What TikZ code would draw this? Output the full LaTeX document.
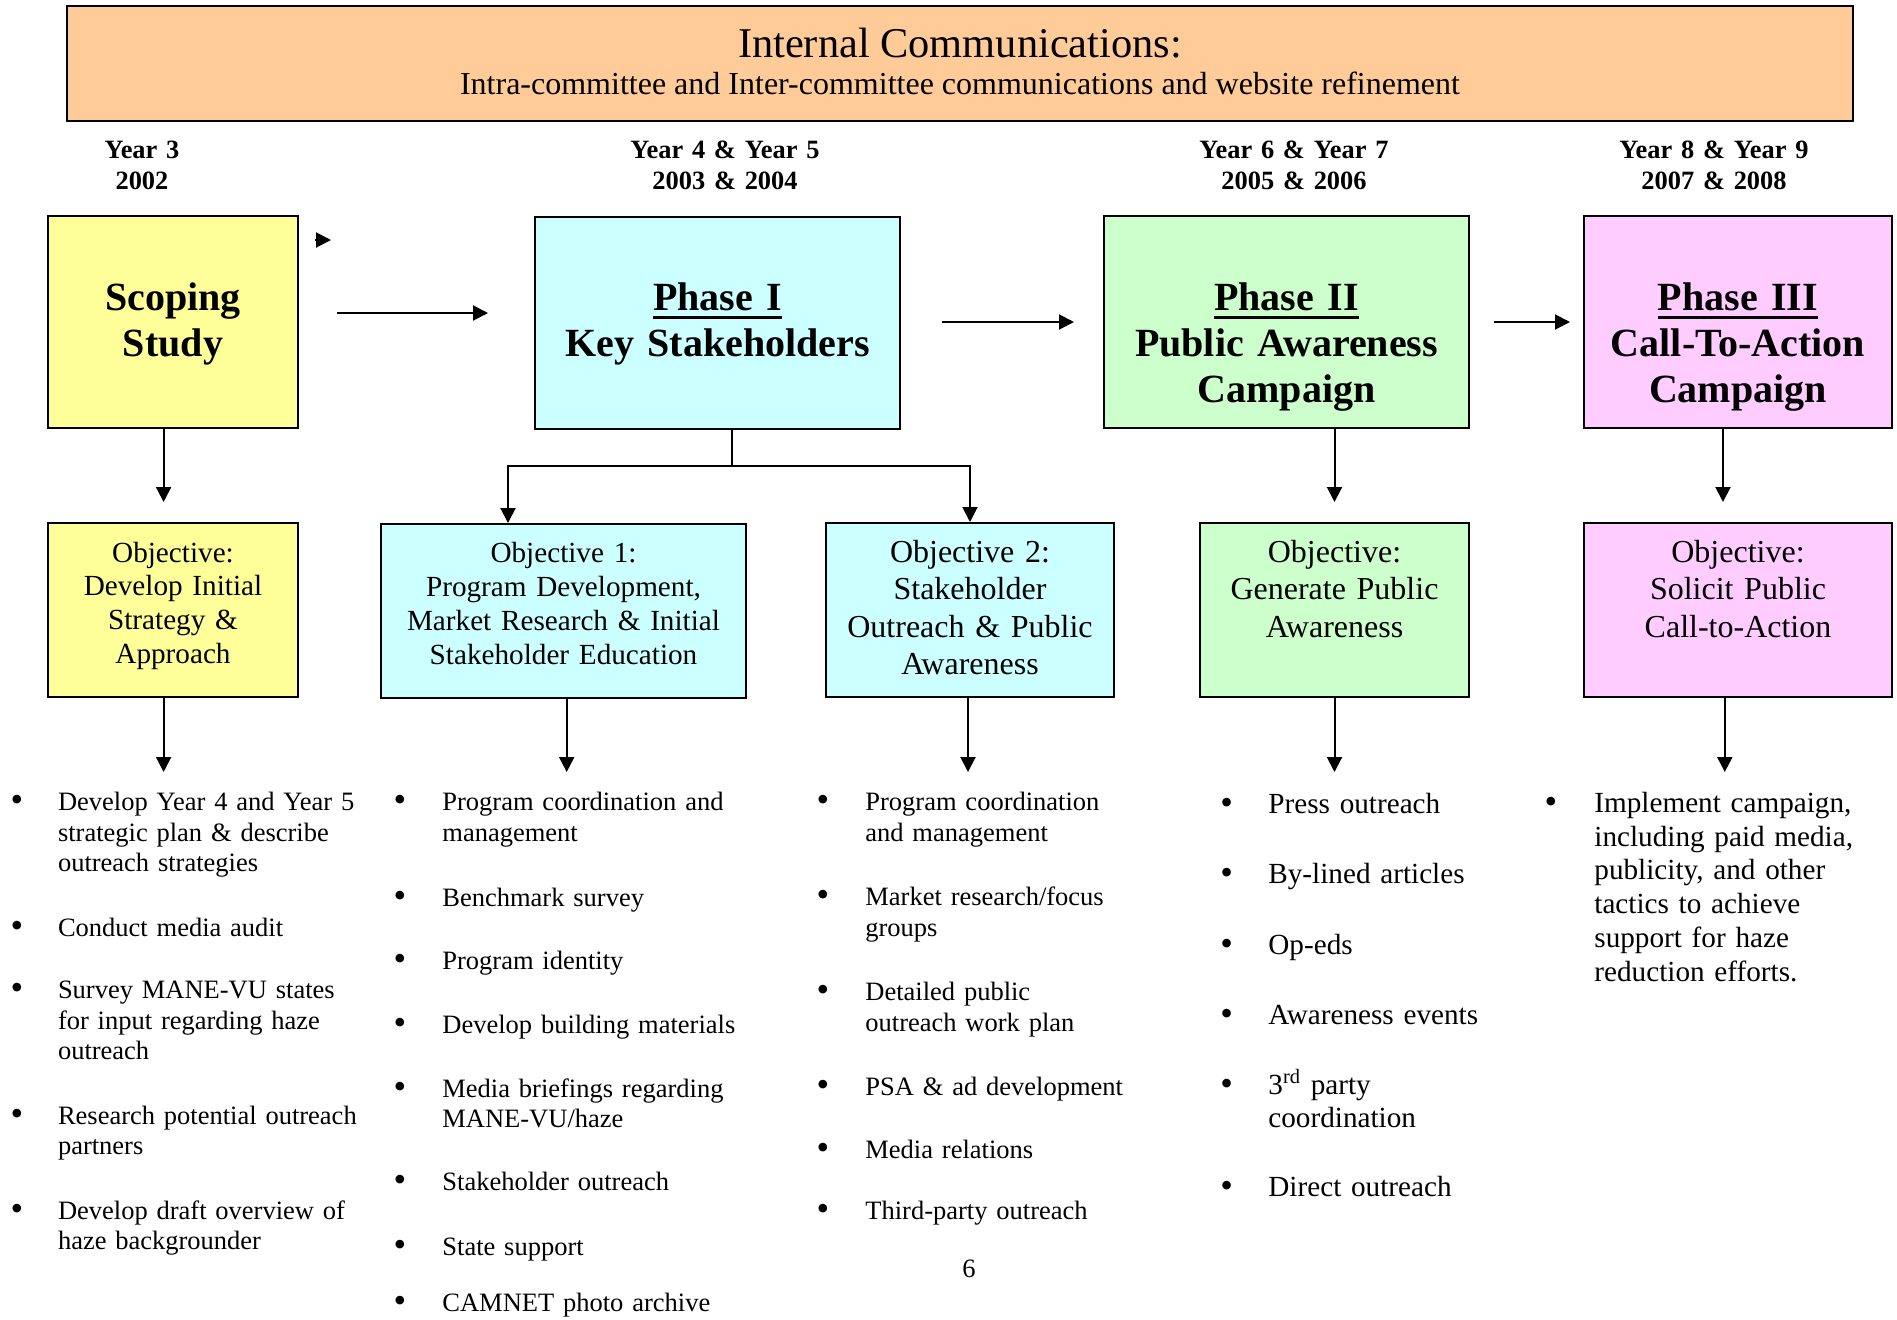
\documentclass[tikz,border=0pt]{standalone}
\usepackage{fontspec}
\setmainfont{Liberation Serif}
\usetikzlibrary{arrows.meta}

\definecolor{bannerfill}{HTML}{FFCC99}
\definecolor{scopefill}{HTML}{FFFF99}
\definecolor{onefill}{HTML}{CCFFFF}
\definecolor{twofill}{HTML}{CCFFCC}
\definecolor{threefill}{HTML}{FFCCFF}

% thick underline for the phase names
\newcommand{\phaseul}[1]{\setbox0\hbox{#1}\rlap{\rule[-4.5pt]{\wd0}{1.5pt}}\box0}

\begin{document}
\begin{tikzpicture}[x=0.5pt, y=-0.5pt, >={Triangle[length=7.5pt, width=7.5pt]},
  phasebox/.style={draw, line width=1pt, inner sep=0pt},
  phasetitle/.style={font=\fontsize{20}{23}\selectfont\bfseries, text width=170pt, align=center, anchor=base},
  goal/.style={font=\fontsize{14.6}{16.9}\selectfont, text width=180pt, align=center, anchor=base},
  goalbig/.style={font=\fontsize{16}{18.75}\selectfont, text width=180pt, align=center, anchor=base},
  year/.style={font=\fontsize{13.2}{15.5}\selectfont\bfseries, text width=120pt, align=center, anchor=base},
  entry/.style={font=\fontsize{13.25}{15.25}\selectfont, text width=200pt, align=left, anchor=base west, inner sep=0pt},
  entrybig/.style={font=\fontsize{14.6}{16.85}\selectfont, text width=200pt, align=left, anchor=base west, inner sep=0pt},
  bulletmark/.style={font=\fontsize{18}{18}\selectfont, anchor=base, inner sep=0pt, yshift=-0.5pt},
  link/.style={->, line width=1pt}]

\useasboundingbox (0,0) rectangle (1897,1319);

% --- Banner ---
\node[phasebox, fill=bannerfill, line width=1.2pt, minimum width=893pt, minimum height=57.5pt] (banner) at (960,63.5) {};
\node[font=\fontsize{21.2}{24}\selectfont, anchor=base] (bantitle) at (960,57.3) {Internal Communications:};
\node[font=\fontsize{16}{18}\selectfont, anchor=base] (bansub) at (960,94.3) {Intra-committee and Inter-committee communications and website refinement};

% --- Years ---
\node[year] (yr3) at (142,158) {Year 3\\2002};
\node[year] (yr45) at (725,158) {Year 4 \& Year 5\\2003 \& 2004};
\node[year] (yr67) at (1294,158) {Year 6 \& Year 7\\2005 \& 2006};
\node[year] (yr89) at (1714,158) {Year 8 \& Year 9\\2007 \& 2008};

% --- Phase boxes ---
\node[phasebox, fill=scopefill, minimum width=125pt, minimum height=106pt] (scope) at (173,322) {};
\node[phasebox, fill=onefill, minimum width=182.5pt, minimum height=106pt] (ph1) at (717.5,323) {};
\node[phasebox, fill=twofill, minimum width=182.5pt, minimum height=106pt] (ph2) at (1286.5,322) {};
\node[phasebox, fill=threefill, minimum width=154pt, minimum height=106pt] (ph3) at (1738,322) {};

\node[phasetitle] (scopetxt) at (173,310) {Scoping\\Study};
\node[phasetitle] (ph1txt) at (717.5,310) {\phaseul{Phase I}\\Key Stakeholders};
\node[phasetitle] (ph2txt) at (1286.5,310) {\phaseul{Phase II}\\Public Awareness\\Campaign};
\node[phasetitle] (ph3txt) at (1738,310) {\phaseul{Phase III}\\Call-To-Action\\Campaign};

% --- Objective boxes ---
\node[phasebox, fill=scopefill, minimum width=125pt, minimum height=87pt] (objS) at (173,610) {};
\node[phasebox, fill=onefill, minimum width=182.5pt, minimum height=87pt] (obj1) at (563.5,611) {};
\node[phasebox, fill=onefill, minimum width=144pt, minimum height=87pt] (obj2) at (970,610) {};
\node[phasebox, fill=twofill, minimum width=134.5pt, minimum height=87pt] (objII) at (1334.5,610) {};
\node[phasebox, fill=threefill, minimum width=154pt, minimum height=87pt] (objIII) at (1738,610) {};

\node[goal] (objStxt) at (173,562) {Objective:\\Develop Initial\\Strategy \&\\Approach};
\node[goal, font=\fontsize{14.6}{17.1}\selectfont] (obj1txt) at (563.5,562) {Objective 1:\\Program Development,\\Market Research \& Initial\\Stakeholder Education};
\node[goalbig] (obj2txt) at (970,562) {Objective 2:\\Stakeholder\\Outreach \& Public\\Awareness};
\node[goalbig] (objIItxt) at (1334.5,562) {Objective:\\Generate Public\\Awareness};
\node[goalbig] (objIIItxt) at (1738,562) {Objective:\\Solicit Public\\Call-to-Action};

% --- Arrows between phases ---
\coordinate (stray) at (315,240);
\coordinate (strayend) at (331,240);
\draw[link] (stray) -- (strayend);
\draw[link, shorten <=19pt, shorten >=23pt] ([yshift=4.5pt]scope.east) -- ([yshift=4.5pt]scope.east -| ph1.west);
\draw[link, shorten <=20.5pt, shorten >=14.5pt] (ph2.west -| ph1.east) -- (ph2.west);
\draw[link, shorten <=12pt, shorten >=6.5pt] (ph2.east) -- (ph3.west);

% --- Arrows down to objectives ---
\draw[link, shorten >=10pt] ([xshift=-4.7pt]scope.south) -- ([xshift=-4.7pt]objS.north);
\coordinate (fork) at (731.5,465.7);
\draw[line width=1pt] (fork |- ph1.south) -- (fork);
\draw[link] (fork) -| ([xshift=-27.75pt]obj1.north);
\draw[link] (fork) -| (obj2.north);
\draw[link, shorten >=10pt] (objII.north |- ph2.south) -- (objII.north);
\draw[link, shorten >=10pt] ([xshift=-7.5pt]ph3.south) -- ([xshift=-7.5pt]objIII.north);

% --- Arrows down to the lists ---
\coordinate (listtop) at (0,772);
\draw[link] ([xshift=-4.7pt]objS.south) -- ([xshift=-4.7pt]objS.south |- listtop);
\draw[link] ([xshift=1.6pt]obj1.south) -- ([xshift=1.6pt]obj1.south |- listtop);
\draw[link] ([xshift=-1pt]obj2.south) -- ([xshift=-1pt]obj2.south |- listtop);
\draw[link] (objII.south) -- (objII.south |- listtop);
\draw[link] ([xshift=-6.6pt]objIII.south) -- ([xshift=-6.6pt]objIII.south |- listtop);

% --- Bullet lists ---
\foreach \y/\txt [count=\i] in {810.7/{Develop Year 4 and Year 5\\strategic plan \& describe\\outreach strategies},
    936/{Conduct media audit},
    998.8/{Survey MANE-VU states\\for input regarding haze\\outreach},
    1124.3/{Research potential outreach\\partners},
    1219.2/{Develop draft overview of\\haze backgrounder}} {
  \node[bulletmark] (b1-\i) at (17,\y) {\textbullet};
  \node[entry] (e1-\i) at (57.6,\y) {\txt};
}
\foreach \y/\txt [count=\i] in {810.7/{Program coordination and\\management},
    906.4/{Benchmark survey},
    969.5/{Program identity},
    1033.9/{Develop building materials},
    1097.4/{Media briefings regarding\\MANE-VU/haze},
    1190.5/{Stakeholder outreach},
    1255/{State support},
    1311.5/{CAMNET photo archive}} {
  \node[bulletmark] (b2-\i) at (400,\y) {\textbullet};
  \node[entry] (e2-\i) at (442,\y) {\txt};
}
\foreach \y/\txt [count=\i] in {810.7/{Program coordination\\and management},
    905.5/{Market research/focus\\groups},
    1000.5/{Detailed public\\outreach work plan},
    1095/{PSA \& ad development},
    1158.3/{Media relations},
    1219.5/{Third-party outreach}} {
  \node[bulletmark] (b3-\i) at (823,\y) {\textbullet};
  \node[entry] (e3-\i) at (865,\y) {\txt};
}
\foreach \y/\txt [count=\i] in {813.5/{Press outreach},
    883.5/{By-lined articles},
    954/{Op-eds},
    1024.5/{Awareness events},
    1094/{3\textsuperscript{rd} party\\coordination},
    1196.5/{Direct outreach}} {
  \node[bulletmark] (b4-\i) at (1226.6,\y) {\textbullet};
  \node[entrybig] (e4-\i) at (1268,\y) {\txt};
}
\node[bulletmark] (b5-1) at (1551,812.5) {\textbullet};
\node[entrybig] (e5-1) at (1594,812.5) {Implement campaign,\\including paid media,\\publicity, and other\\tactics to achieve\\support for haze\\reduction efforts.};

% page number
\node[entry, text width={}, anchor=base] (pagenum) at (969,1277) {6};

\end{tikzpicture}
\end{document}
